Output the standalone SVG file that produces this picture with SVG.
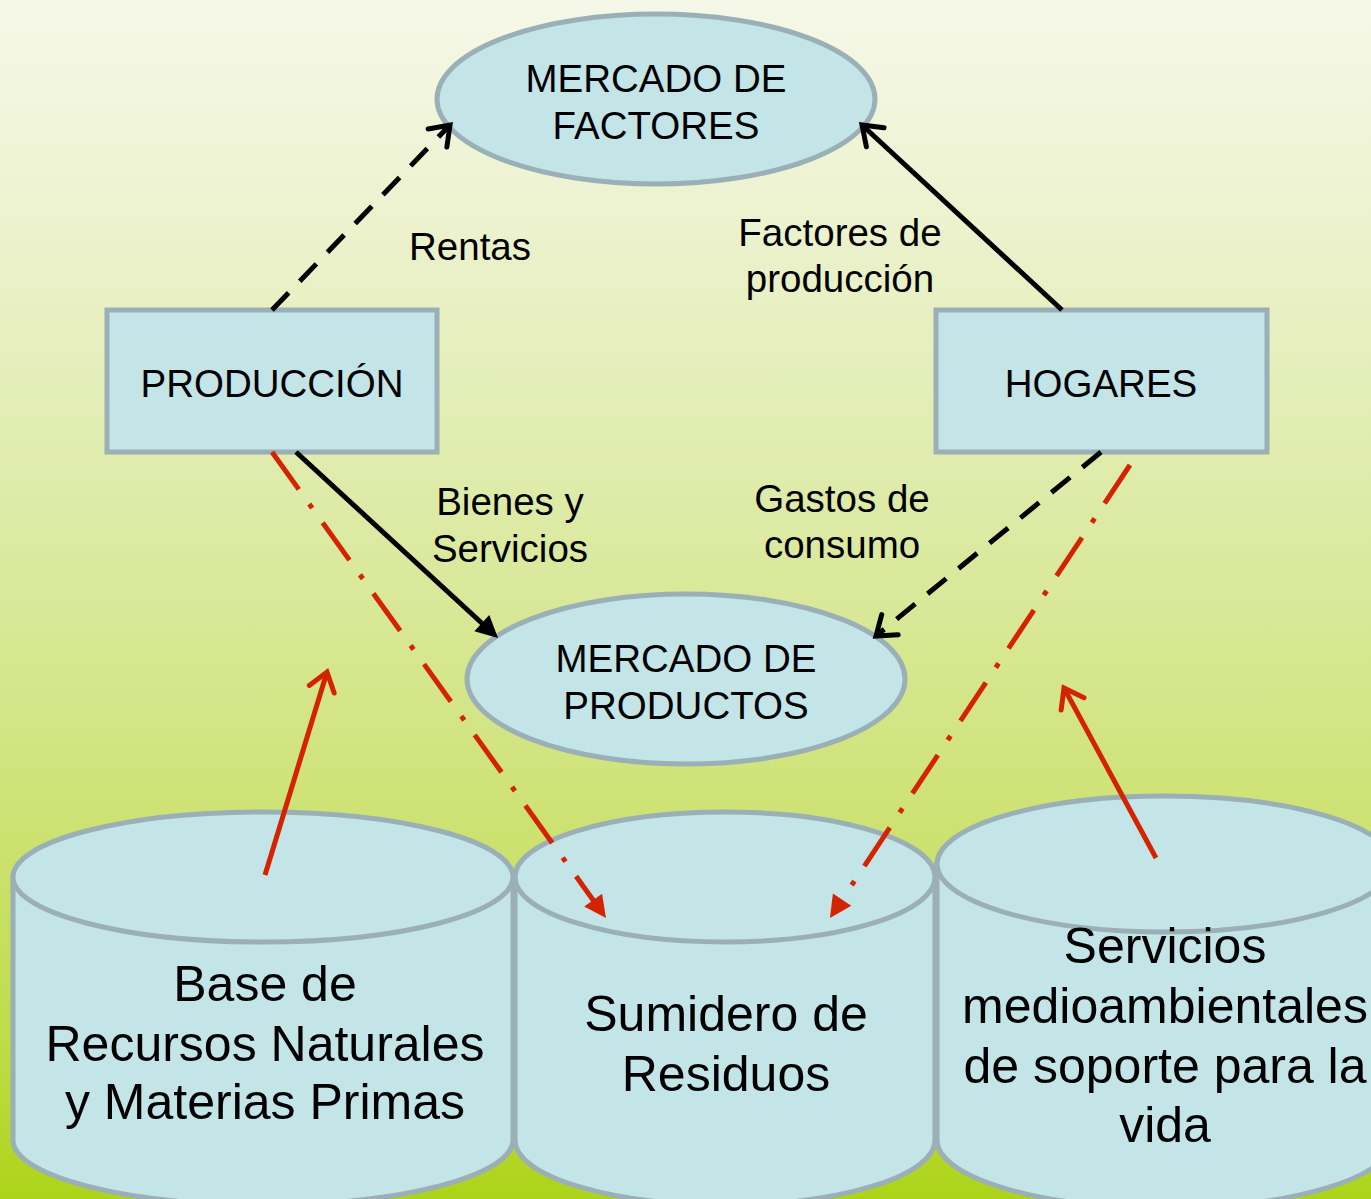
<svg xmlns="http://www.w3.org/2000/svg" width="1371" height="1199" viewBox="0 0 1371 1199">
<defs>
<linearGradient id="bg" x1="0" y1="0" x2="0" y2="1">
<stop offset="0" stop-color="#f5f8e8"/>
<stop offset="0.25" stop-color="#e8f0c4"/>
<stop offset="0.5" stop-color="#d9e899"/>
<stop offset="0.72" stop-color="#cbe16c"/>
<stop offset="0.88" stop-color="#bedb45"/>
<stop offset="1" stop-color="#acd418"/>
</linearGradient>
<marker id="chevK" markerUnits="userSpaceOnUse" markerWidth="40" markerHeight="40" viewBox="-30 -20 40 40" refX="0" refY="0" orient="auto" overflow="visible">
<path d="M-18,-13 L0,0 L-18,13" fill="none" stroke="#000" stroke-width="5" stroke-linecap="round" stroke-linejoin="miter"/>
</marker>
<marker id="chevR" markerUnits="userSpaceOnUse" markerWidth="40" markerHeight="40" viewBox="-30 -20 40 40" refX="0" refY="0" orient="auto" overflow="visible">
<path d="M-18,-13 L0,0 L-18,13" fill="none" stroke="#d42300" stroke-width="5" stroke-linecap="round" stroke-linejoin="miter"/>
</marker>
<marker id="triK" markerUnits="userSpaceOnUse" markerWidth="40" markerHeight="40" viewBox="-10 -20 40 40" refX="0" refY="0" orient="auto" overflow="visible">
<path d="M-2,-11 L20,0 L-2,11 Z" fill="#000"/>
</marker>
<marker id="triR" markerUnits="userSpaceOnUse" markerWidth="40" markerHeight="40" viewBox="-10 -20 40 40" refX="0" refY="0" orient="auto" overflow="visible">
<path d="M-2,-11 L20,0 L-2,11 Z" fill="#d42300"/>
</marker>
</defs>
<style>
.shape{fill:#c4e5e8;stroke:#9ab0b6;stroke-width:5}
.t{font-family:"Liberation Sans",Arial,sans-serif;fill:#000;text-anchor:middle}
.n{font-size:38.5px}
.l{font-size:38.5px}
.c{font-size:50px}
.k{stroke:#000;stroke-width:5;fill:none}
.r{stroke:#d42300;stroke-width:5;fill:none}
.dash{stroke-dasharray:24 16}
.dd{stroke-dasharray:46 18 5 18}
</style>
<rect x="0" y="0" width="1371" height="1199" fill="url(#bg)"/>

<g id="cyl-recursos">
<path class="shape" d="M13,877 V1140 A250,65 0 0 0 513,1140 V877 Z"/>
<ellipse class="shape" cx="263" cy="877" rx="250" ry="65"/>
<text class="t c" x="265" y="1001">Base de</text>
<text class="t c" x="265" y="1061">Recursos Naturales</text>
<text class="t c" x="265" y="1119">y Materias Primas</text>
</g>
<g id="cyl-sumidero">
<path class="shape" d="M515,877 V1140 A210,65 0 0 0 935,1140 V877 Z"/>
<ellipse class="shape" cx="725" cy="877" rx="210" ry="65"/>
<text class="t c" x="726" y="1031">Sumidero de</text>
<text class="t c" x="726" y="1091">Residuos</text>
</g>
<g id="cyl-servicios">
<path class="shape" d="M937,864 V1140 A228,68 0 0 0 1393,1140 V864 Z"/>
<ellipse class="shape" cx="1165" cy="864" rx="228" ry="68"/>
<text class="t c" x="1165" y="963">Servicios</text>
<text class="t c" x="1165" y="1023">medioambientales</text>
<text class="t c" x="1165" y="1083">de soporte para la</text>
<text class="t c" x="1165" y="1142">vida</text>
</g>

<g id="mercado-factores">
<ellipse class="shape" cx="656" cy="99" rx="219" ry="85"/>
<text class="t n" x="656" y="92">MERCADO DE</text>
<text class="t n" x="656" y="139">FACTORES</text>
</g>
<g id="produccion">
<rect class="shape" x="107" y="310" width="330" height="142"/>
<text class="t n" x="272" y="397">PRODUCCIÓN</text>
</g>
<g id="hogares">
<rect class="shape" x="936" y="310" width="331" height="142"/>
<text class="t n" x="1101" y="397">HOGARES</text>
</g>
<g id="mercado-productos">
<ellipse class="shape" cx="686" cy="679" rx="219" ry="85"/>
<text class="t n" x="686" y="672">MERCADO DE</text>
<text class="t n" x="686" y="719">PRODUCTOS</text>
</g>

<g id="connectors">
<line class="k dash" x1="272" y1="310" x2="450" y2="125" marker-end="url(#chevK)"/>
<line class="k" x1="1062" y1="310" x2="862" y2="125" marker-end="url(#chevK)"/>
<line class="k" x1="296" y1="452" x2="483.3" y2="624.5" marker-end="url(#triK)"/>
<line class="k dash" x1="1101" y1="452" x2="876" y2="636" marker-end="url(#chevK)"/>
<line class="r dd" x1="272" y1="452" x2="594.3" y2="901.7" marker-end="url(#triR)"/>
<line class="r dd" x1="1130" y1="465" x2="841" y2="901.3" marker-end="url(#triR)"/>
<line class="r" x1="265" y1="875" x2="327" y2="672" marker-end="url(#chevR)"/>
<line class="r" x1="1156" y1="858" x2="1064" y2="688" marker-end="url(#chevR)"/>
</g>

<g id="labels">
<text class="t l" x="470" y="260">Rentas</text>
<text class="t l" x="840" y="246">Factores de</text>
<text class="t l" x="840" y="292">producción</text>
<text class="t l" x="510" y="515">Bienes y</text>
<text class="t l" x="510" y="562">Servicios</text>
<text class="t l" x="842" y="512">Gastos de</text>
<text class="t l" x="842" y="558">consumo</text>
</g>
</svg>
